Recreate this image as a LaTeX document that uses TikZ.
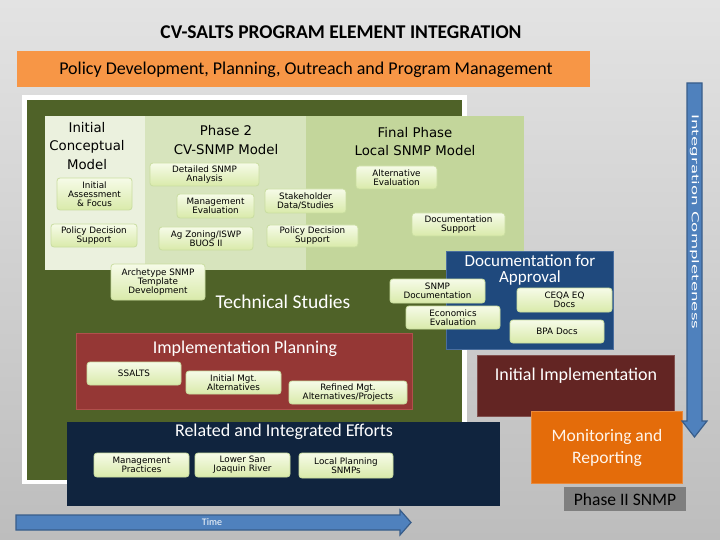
\documentclass[tikz,border=0pt]{standalone}
\usepackage{fontspec}
\setmainfont{Carlito}
\newfontfamily\dvfont{DejaVu Sans}
\definecolor{bgtop}{HTML}{E3E3E3}
\definecolor{bgbot}{HTML}{BDBDBD}
\definecolor{banner}{HTML}{F79646}
\definecolor{olive}{HTML}{4F6228}
\definecolor{panelA}{HTML}{EBF1DE}
\definecolor{panelB}{HTML}{D7E4BD}
\definecolor{panelC}{HTML}{C3D69B}
\definecolor{docblue}{HTML}{1F497D}
\definecolor{docbord}{HTML}{4A6E9E}
\definecolor{impred}{HTML}{953735}
\definecolor{impbord}{HTML}{B0504C}
\definecolor{navy}{HTML}{10243E}
\definecolor{darkred}{HTML}{632523}
\definecolor{monor}{HTML}{E46C0A}
\definecolor{phgrey}{HTML}{7F7F7F}
\definecolor{arrblue}{HTML}{4F81BD}
\definecolor{arrbord}{HTML}{385D8A}
\definecolor{sboxtop}{HTML}{F6FBE8}
\definecolor{sboxbot}{HTML}{D9EAAA}
\definecolor{sboxbord}{HTML}{C9DDA0}
\tikzset{
  area/.style={anchor=north west, inner sep=0pt, outer sep=0pt},
  sbox/.style={draw=sboxbord, line width=0.8pt, rounded corners=3pt,
    top color=sboxtop, bottom color=sboxbot, align=center, inner sep=0pt,
    font=\dvfont\fontsize{8.8}{8.9}\selectfont, text=black},
  phead/.style={align=center, font=\dvfont\fontsize{13.3}{18.5}\selectfont, text=black},
  whead/.style={align=center, font=\fontsize{17.5}{15}\selectfont, text=white},
}
\begin{document}
\begin{tikzpicture}[x=1pt,y=-1pt]
\useasboundingbox (0,0) rectangle (720,540);
\shade[top color=bgtop, bottom color=bgbot] (0,0) rectangle (720,540);

% title and banner
\node (title) at (341,32) {\fontsize{19.5}{22}\selectfont\bfseries CV-SALTS PROGRAM ELEMENT INTEGRATION};
\node[area, fill=banner, minimum width=573pt, minimum height=36pt] (banner) at (17,51) {};
\node (bannertext) at (306,70) {\fontsize{18}{20}\selectfont Policy Development, Planning, Outreach and Program Management};

% white frame and green area
\node[area, fill=white, minimum width=445pt, minimum height=389pt] (frame) at (22,95) {};
\node[area, fill=olive, minimum width=435pt, minimum height=380pt] (green) at (27,100) {};

% panels
\node[area, fill=panelA, minimum width=100pt, minimum height=154pt] (panA) at (45,116) {};
\node[area, fill=panelB, minimum width=161pt, minimum height=154pt] (panB) at (145,116) {};
\node[area, fill=panelC, minimum width=218pt, minimum height=154pt] (panC) at (306,116) {};

\node[phead] (hA) at (87,146) {Initial\\Conceptual\\Model};
\node[phead] (hB) at (226,140) {Phase 2\\CV-SNMP Model};
\node[phead] (hC) at (415,141.5) {Final Phase\\Local SNMP Model};

% documentation for approval
\node[area, fill=docblue, draw=docbord, line width=1pt, minimum width=167pt, minimum height=98pt] (docbox) at (446,251) {};
\node[whead, font=\fontsize{17}{16}\selectfont] (doctext) at (530,269.5) {Documentation for\\Approval};

% small boxes in panels
\node[sbox, minimum width=75pt, minimum height=32pt] (iaf) at (94.5,194) {Initial\\Assessment\\\& Focus};
\node[sbox, minimum width=86pt, minimum height=23pt] (pdsA) at (94,235.5) {Policy Decision\\Support};
\node[sbox, minimum width=109pt, minimum height=23pt] (dsa) at (204.5,174.5) {Detailed SNMP\\Analysis};
\node[sbox, minimum width=77pt, minimum height=24pt] (mev) at (215.5,206) {Management\\Evaluation};
\node[sbox, minimum width=94pt, minimum height=23pt] (agz) at (206,238.5) {Ag Zoning/ISWP\\BUOS II};
\node[sbox, minimum width=81pt, minimum height=24pt] (sds) at (305.5,201) {Stakeholder\\Data/Studies};
\node[sbox, minimum width=91pt, minimum height=22pt] (pdsB) at (312.5,236) {Policy Decision\\Support};
\node[sbox, minimum width=81pt, minimum height=23pt] (aev) at (396.5,177.5) {Alternative\\Evaluation};
\node[sbox, minimum width=93pt, minimum height=23pt] (dsu) at (458.5,224.5) {Documentation\\Support};
\node[sbox, minimum width=94pt, minimum height=36pt] (arch) at (158,282) {Archetype SNMP\\Template\\Development};

\node[text=white, font=\fontsize{19.5}{20}\selectfont] (tech) at (283,302) {Technical Studies};

\node[sbox, minimum width=95pt, minimum height=24pt] (snmpd) at (437.5,291) {SNMP\\Documentation};
\node[sbox, minimum width=94pt, minimum height=23pt] (eco) at (453,317.5) {Economics\\Evaluation};
\node[sbox, minimum width=95pt, minimum height=24pt] (ceqa) at (564.5,300) {CEQA EQ\\Docs};
\node[sbox, minimum width=94pt, minimum height=23pt] (bpa) at (557,331.5) {BPA Docs};

% implementation planning
\node[area, fill=impred, draw=impbord, line width=1pt, minimum width=336pt, minimum height=76pt] (impbox) at (76,333) {};
\node[whead, font=\fontsize{18}{15}\selectfont] (imptext) at (245,349) {Implementation Planning};
\node[sbox, minimum width=94pt, minimum height=23pt] (ssalts) at (134,373.5) {SSALTS};
\node[sbox, minimum width=95pt, minimum height=23pt] (ima) at (233.5,382.5) {Initial Mgt.\\Alternatives};
\node[sbox, minimum width=118pt, minimum height=23pt] (rma) at (348,392.5) {Refined Mgt.\\Alternatives/Projects};

% related and integrated efforts
\node[area, fill=navy, minimum width=433pt, minimum height=84pt] (relbox) at (67,422) {};
\node[whead, font=\fontsize{18}{15}\selectfont] (reltext) at (284,432) {Related and Integrated Efforts};
\node[sbox, minimum width=95pt, minimum height=24pt] (mp) at (141.5,465) {Management\\Practices};
\node[sbox, minimum width=95pt, minimum height=24pt] (lsj) at (242.5,465) {Lower San\\Joaquin River};
\node[sbox, minimum width=94pt, minimum height=25pt] (lps) at (346,465.5) {Local Planning\\SNMPs};

% right column
\node[area, fill=darkred, draw=darkred!80!white, minimum width=197pt, minimum height=61pt] (initimp) at (477,355) {};
\node[whead, font=\fontsize{18}{15}\selectfont] (initimptext) at (576,376) {Initial Implementation};
\node[area, fill=monor, draw=monor!80!white, minimum width=151pt, minimum height=72pt] (mon) at (531,411) {};
\node[align=center, text=white!92!orange, font=\fontsize{17.5}{22}\selectfont] (montext) at (607,448) {Monitoring and\\Reporting};
\node[area, fill=phgrey, minimum width=122pt, minimum height=24pt] (ph2) at (564,487) {};
\node[font=\fontsize{17.5}{18}\selectfont] (ph2text) at (625,499) {Phase II SNMP};

% time arrow
\filldraw[fill=arrblue, draw=arrbord, line width=1.2pt]
  (16,515) -- (400,515) -- (400,510) -- (411,522.5) -- (400,535) -- (400,530) -- (16,530) -- cycle;
\node[text=white, font=\fontsize{10}{12}\selectfont] (time) at (212,522) {Time};

% integration completeness arrow
\filldraw[fill=arrblue, draw=arrbord, line width=1.2pt]
  (687,83) -- (702,83) -- (702,421) -- (707,421) -- (694.5,437) -- (682,421) -- (687,421) -- cycle;
\node[text=white, font=\dvfont\fontsize{9.5}{10}\selectfont, rotate=-90, xscale=1.75] (integ) at (694.5,222) {Integration Completeness};
\end{tikzpicture}
\end{document}
